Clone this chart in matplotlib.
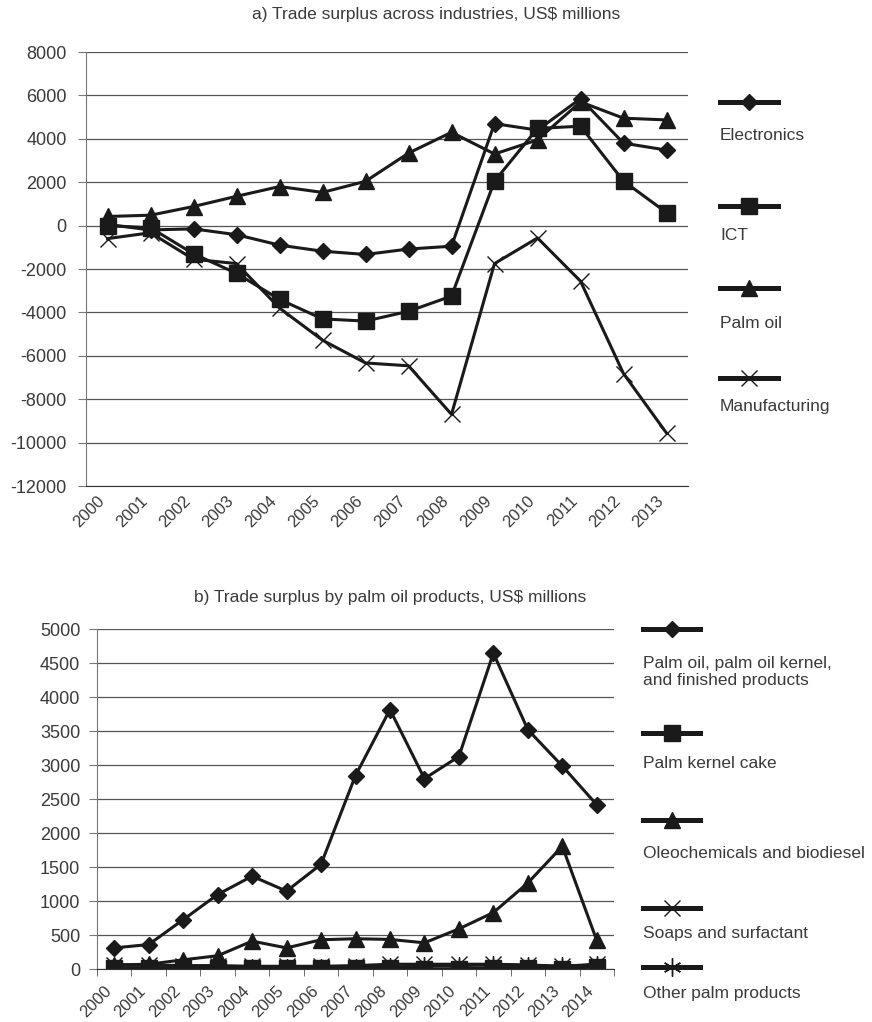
import matplotlib
matplotlib.use('Agg')
import matplotlib.pyplot as plt
from matplotlib.lines import Line2D

plt.rcParams['font.family'] = ['Liberation Sans', 'DejaVu Sans']
plt.rcParams['axes.unicode_minus'] = False

# industries, 2000-2013
years_a = [str(y) for y in range(2000, 2014)]
electronics = [50, -200, -150, -420, -900, -1180, -1330, -1080, -950, 4700, 4400, 5850, 3800, 3480]
ict = [0, -100, -1300, -2200, -3400, -4300, -4400, -3950, -3250, 2050, 4480, 4580, 2050, 600]
palm_oil = [420, 480, 880, 1350, 1800, 1530, 2040, 3340, 4300, 3300, 3950, 5700, 4950, 4870]
manufacturing = [-600, -330, -1550, -1750, -3800, -5280, -6330, -6460, -8700, -1750, -570, -2560, -6820, -9560]

# palm oil products, 2000-2014
years_b = [str(y) for y in range(2000, 2015)]
palm_finished = [310, 360, 725, 1095, 1365, 1145, 1540, 2845, 3815, 2800, 3125, 4645, 3520, 2985, 2415]
kernel_cake = [10, 10, 10, 10, 10, 10, 10, 10, 10, 0, 5, 20, 20, 5, 30]
oleo_biodiesel = [60, 70, 135, 195, 410, 310, 430, 445, 435, 385, 590, 830, 1265, 1805, 420]
soaps = [60, 60, 50, 50, 40, 40, 40, 50, 70, 70, 70, 70, 60, 40, 70]
other_palm = [20, 20, 20, 20, 20, 20, 20, 20, 30, 40, 50, 60, 50, 40, 60]

TXT = '#3a3a3a'
LINE = '#1a1a1a'
FS = 12.5
W, H = 872, 1022

fig = plt.figure(figsize=(W / 100, H / 100), dpi=100)

def px(x, y):
    return x / W, 1 - y / H

def style(ax, n, ymin, ymax, step, xticks_marks, xpad, ypad):
    ax.set_xlim(-0.5, n - 0.5)
    ax.set_ylim(ymin, ymax)
    ax.set_yticks(range(ymin, ymax + 1, step))
    ax.yaxis.grid(True, color='#555555', linewidth=0.9)
    ax.set_axisbelow(True)
    for s in ['top', 'right']:
        ax.spines[s].set_visible(False)
    ax.spines['left'].set_color('#777777')
    ax.spines['bottom'].set_color('#333333')
    ax.tick_params(axis='y', length=6, color='#777777', labelsize=13, labelcolor=TXT, pad=ypad)
    ax.set_xticks(range(n))
    ax.set_xticklabels(ax.get_xticklabels(), rotation=45, ha='right', va='top')
    if xticks_marks:
        ax.set_xticks([i - 0.5 for i in range(n + 1)], minor=True)
        ax.tick_params(axis='x', which='minor', length=5, color='#555555')
    ax.tick_params(axis='x', which='major', length=0, labelsize=12, labelcolor=TXT, pad=xpad)

def legend_entry(x0, x1, y, ty, label, mk):
    fx0, fy = px(x0, y)
    fx1, _ = px(x1, y)
    fig.add_artist(Line2D([fx0, fx1], [fy, fy], transform=fig.transFigure, color=LINE, lw=3.6))
    fig.add_artist(Line2D([(fx0 + fx1) / 2], [fy], transform=fig.transFigure, color=LINE, lw=0, **mk))
    tx, tyf = px(x0, ty)
    fig.text(tx, tyf, label, color=TXT, fontsize=FS, va='center', ha='left', linespacing=1.2)

mk_diamond = dict(marker='D', markersize=8, markerfacecolor=LINE, markeredgecolor=LINE)
mk_square = dict(marker='s', markersize=12, markerfacecolor=LINE, markeredgecolor=LINE)
mk_tri = dict(marker='^', markersize=12, markerfacecolor=LINE, markeredgecolor=LINE)
mk_x = dict(marker='x', markersize=12, markeredgewidth=1.0, markeredgecolor=LINE)
mk_ast = dict(marker=(6, 2, 0), markersize=13, markeredgewidth=1.0, markeredgecolor=LINE)

# a) industries
ax1 = fig.add_axes([86 / W, 1 - 486 / H, (688 - 86) / W, (486 - 52) / H])
xa = list(range(len(years_a)))
ax1.plot(xa, manufacturing, color=LINE, lw=2.2, **mk_x)
ax1.plot(xa, palm_oil, color=LINE, lw=2.2, **mk_tri)
ax1.plot(xa, ict, color=LINE, lw=2.2, **mk_square)
ax1.plot(xa, electronics, color=LINE, lw=2.2, **mk_diamond)
ax1.set_xticks(xa)
ax1.set_xticklabels(years_a)
style(ax1, len(years_a), -12000, 8000, 2000, False, 5, 8)
fig.text(*px(436, 15), 'a) Trade surplus across industries, US$ millions', color=TXT,
         fontsize=FS, ha='center', va='center')

legend_entry(720, 778, 102, 135, 'Electronics', mk_diamond)
legend_entry(720, 778, 206, 236, 'ICT', mk_square)
legend_entry(720, 778, 288, 323, 'Palm oil', mk_tri)
legend_entry(720, 778, 378, 406, 'Manufacturing', mk_x)

# b) palm oil products
ax2 = fig.add_axes([97 / W, 1 - 969 / H, (614 - 97) / W, (969 - 629) / H])
xb = list(range(len(years_b)))
ax2.plot(xb, kernel_cake, color=LINE, lw=2.2, **mk_square)
ax2.plot(xb, soaps, color=LINE, lw=2.2, **mk_x)
ax2.plot(xb, other_palm, color=LINE, lw=2.2, **mk_ast)
ax2.plot(xb, oleo_biodiesel, color=LINE, lw=2.2, **mk_tri)
ax2.plot(xb, palm_finished, color=LINE, lw=2.2, **mk_diamond)
ax2.set_xticks(xb)
ax2.set_xticklabels(years_b)
style(ax2, len(years_b), 0, 5000, 500, True, 10, 6)
fig.text(*px(390, 597), 'b) Trade surplus by palm oil products, US$ millions', color=TXT,
         fontsize=FS, ha='center', va='center')

legend_entry(643, 700, 629, 672, 'Palm oil, palm oil kernel,\nand finished products', mk_diamond)
legend_entry(643, 700, 733, 763, 'Palm kernel cake', mk_square)
legend_entry(643, 700, 820, 853, 'Oleochemicals and biodiesel', mk_tri)
legend_entry(643, 700, 908, 933, 'Soaps and surfactant', mk_x)
legend_entry(643, 700, 967, 993, 'Other palm products', mk_ast)

fig.savefig('out.png', dpi=100, facecolor='white')
